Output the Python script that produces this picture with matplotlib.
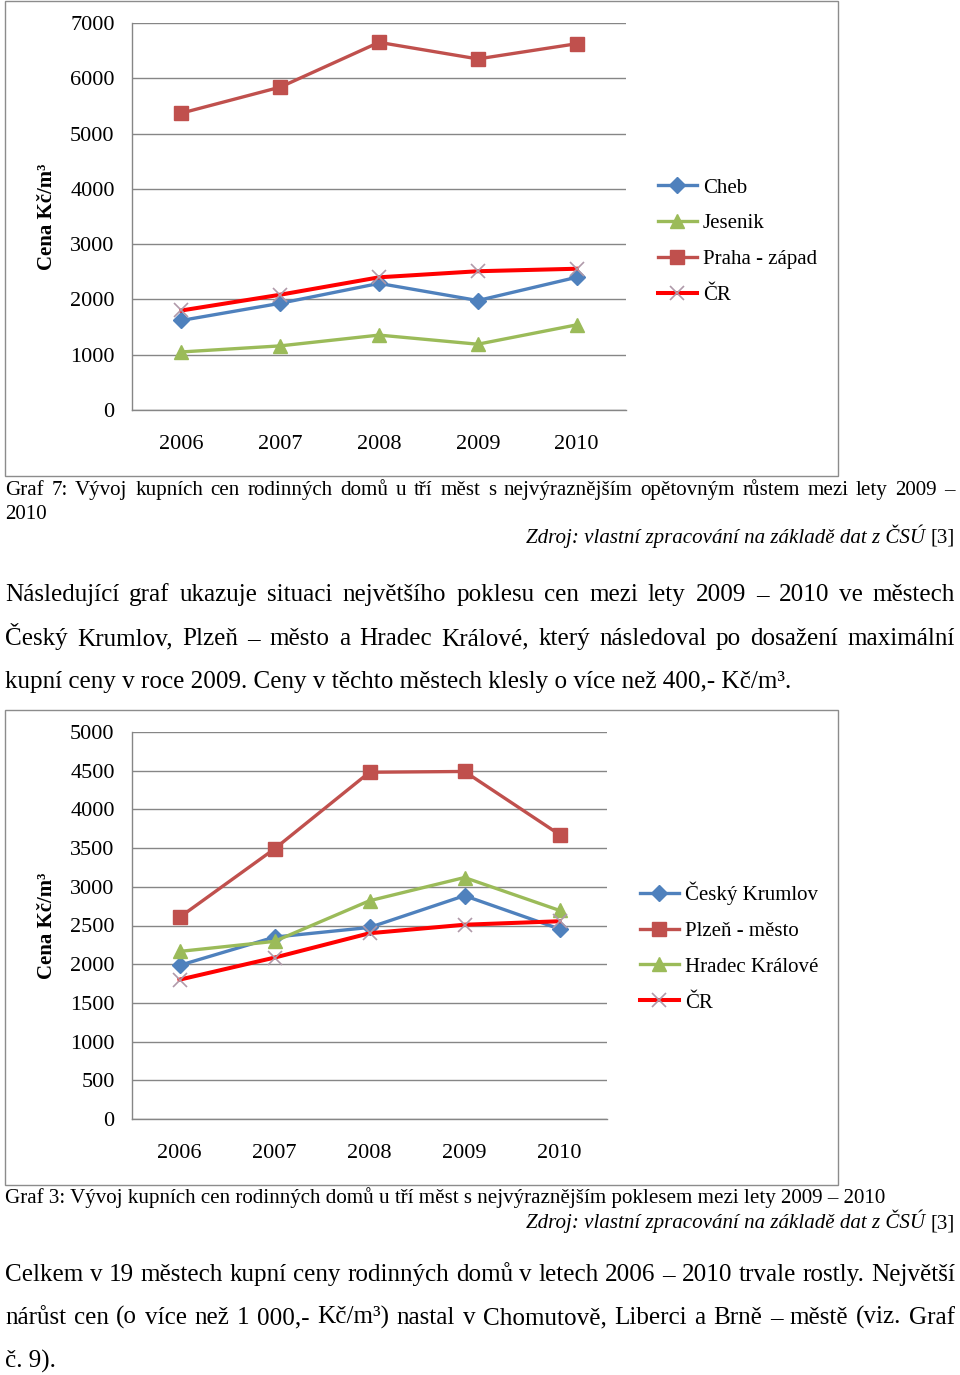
import matplotlib
matplotlib.use("Agg")
import matplotlib.pyplot as plt
from matplotlib.patches import Rectangle

plt.rcParams['font.family'] = ['Liberation Serif', 'DejaVu Serif']

# data (Kč/m3)
years = ["2006", "2007", "2008", "2009", "2010"]
cheb = [1620, 1930, 2290, 1980, 2400]
jesenik = [1050, 1160, 1355, 1190, 1540]
praha_zapad = [5370, 5840, 6650, 6350, 6625]
cr = [1800, 2085, 2400, 2510, 2555]
cesky_krumlov = [1985, 2350, 2475, 2885, 2455]
plzen_mesto = [2605, 3490, 4480, 4490, 3675]
hradec_kralove = [2165, 2295, 2820, 3120, 2695]

BLUE, RED, GREEN, CRRED = "#4F81BD", "#C0504D", "#9BBB59", "#FF0000"
GRID = "#868686"

W, H = 960, 1375
fig = plt.figure(figsize=(W / 100, H / 100), dpi=100)


def fx(x):
    return x / W


def fy(y):
    return 1 - y / H


def frame(x0, y0, x1, y1):
    fig.add_artist(Rectangle((fx(x0), fy(y1)), (x1 - x0) / W, (y1 - y0) / H,
                             transform=fig.transFigure, fill=False,
                             edgecolor="#8c8c8c", lw=1))


def chart(box, series, ymax, ystep, leg_x, leg_y):
    x0, y0, x1, y1 = box
    ax = fig.add_axes([fx(x0), fy(y1), (x1 - x0) / W, (y1 - y0) / H])
    xs = range(len(years))
    for name, vals, kind in series:
        if kind == "diamond":
            ax.plot(xs, vals, color=BLUE, lw=2.4, marker="D", ms=8.5,
                    mfc=BLUE, mec=BLUE, label=name)
        elif kind == "square":
            ax.plot(xs, vals, color=RED, lw=2.4, marker="s", ms=10.5,
                    mfc=RED, mec=RED, label=name)
        elif kind == "triangle":
            ax.plot(xs, vals, color=GREEN, lw=2.4, marker="^", ms=10.5,
                    mfc=GREEN, mec=GREEN, label=name)
        else:
            ax.plot(xs, vals, color=CRRED, lw=2.9, marker="x", ms=10,
                    mec="#b09aaa", mew=1.2, label=name)
    ax.set_xlim(-0.5, len(years) - 0.5)
    ax.set_ylim(0, ymax)
    ax.set_xticks(list(xs))
    ax.set_xticklabels(years)
    ax.set_yticks(range(0, ymax + 1, ystep))
    ax.grid(axis="y", color=GRID, lw=1)
    ax.set_axisbelow(True)
    for s in ("top", "right"):
        ax.spines[s].set_visible(False)
    for s in ("left", "bottom"):
        ax.spines[s].set_color(GRID)
        ax.spines[s].set_linewidth(1)
    ax.tick_params(axis="y", length=0, pad=12.5, labelsize=16)
    ax.tick_params(axis="x", length=0, pad=18, labelsize=16)
    ax.set_ylabel("Cena Kč/m³", fontsize=15, fontweight="bold")
    ax.yaxis.set_label_coords(-(x0 - 57) / (x1 - x0), 0.5)
    ax.legend(loc="center left", bbox_to_anchor=(fx(leg_x), fy(leg_y)),
              bbox_transform=fig.transFigure, frameon=False, fontsize=15,
              handlelength=1.85, handletextpad=0.3, labelspacing=0.78,
              borderpad=0, borderaxespad=0)
    return ax


frame(5, 1, 838, 476)
chart((132, 23, 626, 410),
      [("Cheb", cheb, "diamond"), ("Jesenik", jesenik, "triangle"),
       ("Praha - západ", praha_zapad, "square"), ("ČR", cr, "x")],
      7000, 1000, 658, 241.5)

frame(5, 710, 838, 1185)
chart((132, 732, 607, 1119),
      [("Český Krumlov", cesky_krumlov, "diamond"), ("Plzeň - město", plzen_mesto, "square"),
       ("Hradec Králové", hradec_kralove, "triangle"), ("ČR", cr, "x")],
      5000, 500, 640, 947)

# ---- surrounding document text ----
renderer = fig.canvas.get_renderer()


def width(s, size, style="normal"):
    t = fig.text(0, 0, s, fontsize=size, style=style)
    w = t.get_window_extent(renderer).width
    t.remove()
    return w


def justify(line, x0, x1, y, size):
    words = line.split(" ")
    ws = [width(w, size) for w in words]
    gap = (x1 - x0 - sum(ws)) / (len(words) - 1)
    x = x0
    for w, wd in zip(words, ws):
        fig.text(fx(x), fy(y), w, fontsize=size, va="baseline", ha="left")
        x += wd + gap


def left(line, x, y, size):
    fig.text(fx(x), fy(y), line, fontsize=size, va="baseline", ha="left")


def source(y, size):
    ref = " [3]"
    wr = width(ref, size)
    fig.text(fx(955), fy(y), "[3]", fontsize=size, va="baseline", ha="right")
    fig.text(fx(955 - wr), fy(y), "Zdroj: vlastní zpracování na základě dat z ČSÚ",
             fontsize=size, style="italic", va="baseline", ha="right")


CAP = 15.1
PAR = 18.1

justify("Graf 7: Vývoj kupních cen rodinných domů u tří měst s nejvýraznějším "
        "opětovným růstem mezi lety 2009 –", 5, 955, 495, CAP)
left("2010", 5, 519, CAP)
source(543, CAP)

justify("Následující graf ukazuje situaci největšího poklesu cen mezi lety "
        "2009 – 2010 ve městech", 5, 955, 601, PAR)
justify("Český Krumlov, Plzeň – město a Hradec Králové, který následoval po "
        "dosažení maximální", 5, 955, 645, PAR)
left("kupní ceny v roce 2009. Ceny v těchto městech klesly o více než 400,- Kč/m³.",
     5, 688, PAR)

left("Graf 3: Vývoj kupních cen rodinných domů u tří měst s nejvýraznějším "
     "poklesem mezi lety 2009 – 2010", 5, 1203, CAP)
source(1228, CAP)

justify("Celkem v 19 městech kupní ceny rodinných domů v letech 2006 – 2010 "
        "trvale rostly. Největší", 5, 955, 1281, PAR)
justify("nárůst cen (o více než 1 000,- Kč/m³) nastal v Chomutově, Liberci a "
        "Brně – městě (viz. Graf", 5, 955, 1324, PAR)
left("č. 9).", 5, 1368, PAR)

fig.savefig("out.png", dpi=100)
